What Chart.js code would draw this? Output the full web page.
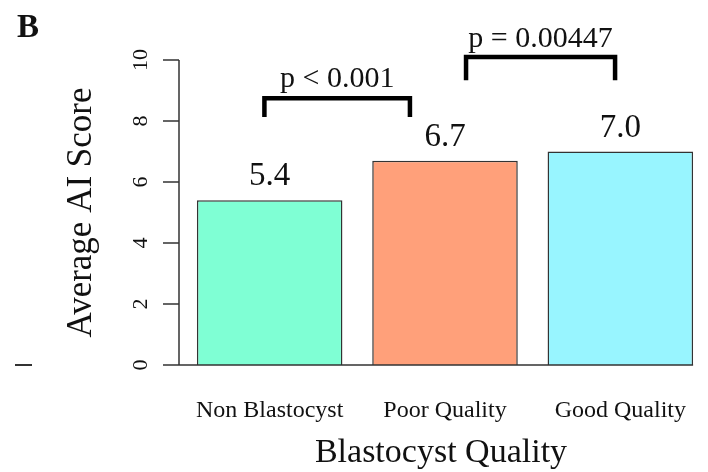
<!DOCTYPE html>
<html>
<head>
<meta charset="utf-8">
<script src="https://cdn.jsdelivr.net/npm/chart.js@4"></script>
<style>
  body { margin: 0; background: #fff; }
  canvas { display: block; }
</style>
</head>
<body>
<canvas id="chart" width="708" height="472"></canvas>
<script>
// Data
const categories = ['Non Blastocyst', 'Poor Quality', 'Good Quality'];
const scores = [5.4, 6.7, 7.0];
const scoreLabels = ['5.4', '6.7', '7.0'];
const yTicks = [0, 2, 4, 6, 8, 10];
const pLabels = ['p < 0.001', 'p = 0.00447'];

const barColors = ['#7fffd4', '#ffa07a', '#98f5ff'];
const serif = '"Liberation Serif", "Times New Roman", serif';

// Brackets: start/end in category units, top and leg bottom in score units
const brackets = [
  { from: -0.03, to: 0.8, top: 8.75, bottom: 8.13, text: pLabels[0], textY: 9.11 },
  { from: 1.12, to: 1.97, top: 10.1, bottom: 9.34, text: pLabels[1], textY: 10.43 }
];

const annotate = {
  id: 'annotate',
  afterDraw(chart) {
    const c = chart.ctx;
    const x = chart.scales.x, y = chart.scales.y;
    const axisX = 179;
    c.save();
    c.strokeStyle = '#333';
    c.fillStyle = '#111';
    c.lineWidth = 1.5;

    // y axis line + ticks
    c.beginPath();
    c.moveTo(axisX, y.getPixelForValue(yTicks[0]));
    c.lineTo(axisX, y.getPixelForValue(yTicks[yTicks.length - 1]));
    yTicks.forEach(t => {
      const py = y.getPixelForValue(t);
      c.moveTo(axisX - 16, py);
      c.lineTo(axisX, py);
    });
    // baseline under the bars
    const meta = chart.getDatasetMeta(0);
    const last = meta.data[meta.data.length - 1];
    c.moveTo(axisX, y.getPixelForValue(0));
    c.lineTo(last.x + last.width / 2, y.getPixelForValue(0));
    c.stroke();

    // tick labels, rotated
    c.font = '22px ' + serif;
    c.textAlign = 'center';
    c.textBaseline = 'alphabetic';
    yTicks.forEach(t => {
      c.save();
      c.translate(147, y.getPixelForValue(t));
      c.rotate(-Math.PI / 2);
      c.fillText(String(t), 0, 0);
      c.restore();
    });

    // y title
    c.font = '35px ' + serif;
    c.save();
    c.translate(91, (y.top + y.bottom) / 2);
    c.rotate(-Math.PI / 2);
    c.fillText('Average AI Score', 0, 0);
    c.restore();

    // category labels
    c.font = '24px ' + serif;
    categories.forEach((cat, i) => {
      c.fillText(cat, x.getPixelForValue(i), 417);
    });

    // x title
    c.font = '34px ' + serif;
    c.fillText('Blastocyst Quality', 441, 462);

    // value labels above bars
    c.font = '33px ' + serif;
    scores.forEach((v, i) => {
      c.fillText(scoreLabels[i], x.getPixelForValue(i), y.getPixelForValue(v) - 15);
    });

    // significance brackets
    const step = x.getPixelForValue(1) - x.getPixelForValue(0);
    c.lineWidth = 4.5;
    c.strokeStyle = '#000';
    c.lineJoin = 'miter';
    c.font = '30px ' + serif;
    brackets.forEach(b => {
      const x1 = x.getPixelForValue(0) + b.from * step;
      const x2 = x.getPixelForValue(0) + b.to * step;
      const yt = y.getPixelForValue(b.top), yb = y.getPixelForValue(b.bottom);
      c.beginPath();
      c.moveTo(x1, yb);
      c.lineTo(x1, yt);
      c.lineTo(x2, yt);
      c.lineTo(x2, yb);
      c.stroke();
      c.fillText(b.text, (x1 + x2) / 2, y.getPixelForValue(b.textY));
    });

    // panel letter
    c.textAlign = 'left';
    c.font = 'bold 33px ' + serif;
    c.fillText('B', 17, 37);

    // stray dash at the left edge
    c.lineWidth = 2;
    c.strokeStyle = '#333';
    c.beginPath();
    c.moveTo(15, 365);
    c.lineTo(32, 365);
    c.stroke();
    c.restore();
  }
};

new Chart(document.getElementById('chart'), {
  type: 'bar',
  data: {
    labels: categories,
    datasets: [{
      data: scores,
      backgroundColor: barColors,
      borderColor: '#333',
      borderWidth: 1.5,
      barPercentage: 0.83,
      categoryPercentage: 1
    }]
  },
  options: {
    responsive: false,
    animation: false,
    devicePixelRatio: 1,
    layout: { padding: { left: 182, right: 0, top: 60, bottom: 107 } },
    plugins: { legend: { display: false }, tooltip: { enabled: false } },
    scales: {
      x: { display: false },
      y: { display: false, min: 0, max: 10 }
    }
  },
  plugins: [annotate]
});
</script>
</body>
</html>
